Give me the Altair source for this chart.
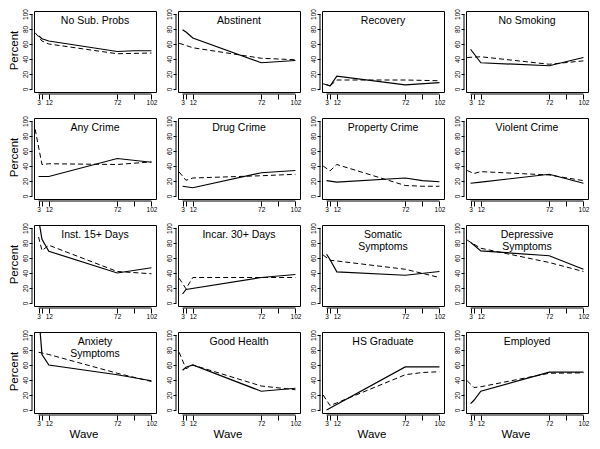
import altair as alt
import pandas as pd

N = None
WAVES = [0, 3, 6, 12, 72, 87, 102]
X_TICKS = [3, 6, 12, 72, 87, 102]
Y_TICKS = [0, 20, 40, 60, 80, 100]

TITLES = ["No Sub. Probs", "Abstinent", "Recovery", "No Smoking",
          "Any Crime", "Drug Crime", "Property Crime", "Violent Crime",
          "Inst. 15+ Days", "Incar. 30+ Days", "Somatic\nSymptoms", "Depressive\nSymptoms",
          "Anxiety\nSymptoms", "Good Health", "HS Graduate", "Employed"]
Y_TITLE = "Percent"
X_TITLE = "Wave"

# values at WAVES (None = no observation)
NOSUB_SOLID = [N, 71, 67, 64, 50, 51, 51]
NOSUB_DASHED = [75, N, 64, 60, 47, N, 48]
ABST_SOLID = [N, 79, 76, 68, 35, N, 38]
ABST_DASHED = [61, N, 58, 55, 41, N, 39]
RECOV_SOLID = [N, 6, 4, 17, 5.5, N, 8.5]
RECOV_DASHED = [7, N, 4, 12, 12, N, 11]
SMOKE_SOLID = [N, 53, N, 35, 31, N, 42]
SMOKE_DASHED = [42, N, N, 43, 33, N, 37.5]
ANYCR_SOLID = [N, 26, N, 26, 50, N, 45]
ANYCR_DASHED = [89, N, 42, 43, 42, N, 45.5]
DRUGCR_SOLID = [N, 13, N, 11, 31, N, 34]
DRUGCR_DASHED = [32, N, 21, 24, 27, N, 29]
PROPCR_SOLID = [N, 20.5, N, 18.5, 24, 20.5, 19]
PROPCR_DASHED = [40, N, 33.5, 42, 14, 13, 13]
VIOLCR_SOLID = [N, 17, N, 18.5, 29, N, 17]
VIOLCR_DASHED = [34, N, 30, 32.5, 28, N, 20.5]
INST_SOLID = [N, 112, 85, 69, 40, N, 47]
INST_DASHED = [N, 88, 70, 77, 42, N, 39]
INCAR_SOLID = [N, 12, 18, N, 34, N, 38]
INCAR_DASHED = [33, N, 19, 34, 34, N, 34]
SOMAT_SOLID = [N, 65, 58, 41.5, 37, N, 42]
SOMAT_DASHED = [64, N, 57, 56, 45, N, 34]
DEPR_SOLID = [N, 81, N, 69.5, 63, N, 45]
DEPR_DASHED = [84, 81, N, 73, 54, N, 42]
ANX_SOLID = [N, 130, 74, 60, 47, N, 39]
ANX_DASHED = [N, 77, N, 74, 49, N, 38]
HEALTH_SOLID = [N, 53, 57, 60, 25, N, 29]
HEALTH_DASHED = [77, N, 55, 60, 32, N, 27]
HSGRAD_SOLID = [N, 0, N, N, 57.5, N, 57.5]
HSGRAD_DASHED = [20, N, 6, 9.5, 47, 50, 51]
EMPL_SOLID = [N, 8.5, 13, 25, 50.5, N, 50.5]
EMPL_DASHED = [39, N, 30, 31, 49, N, 49.5]

SOLID = [NOSUB_SOLID, ABST_SOLID, RECOV_SOLID, SMOKE_SOLID,
         ANYCR_SOLID, DRUGCR_SOLID, PROPCR_SOLID, VIOLCR_SOLID,
         INST_SOLID, INCAR_SOLID, SOMAT_SOLID, DEPR_SOLID,
         ANX_SOLID, HEALTH_SOLID, HSGRAD_SOLID, EMPL_SOLID]
DASHED = [NOSUB_DASHED, ABST_DASHED, RECOV_DASHED, SMOKE_DASHED,
          ANYCR_DASHED, DRUGCR_DASHED, PROPCR_DASHED, VIOLCR_DASHED,
          INST_DASHED, INCAR_DASHED, SOMAT_DASHED, DEPR_DASHED,
          ANX_DASHED, HEALTH_DASHED, HSGRAD_DASHED, EMPL_DASHED]

W, H = 122, 81
FONT = "Liberation Sans"
XDOM = [-1, 106]
YDOM = [-4, 104]


def panel(i):
    row, col = divmod(i, 4)
    recs = []
    for kind, vals in (("solid", SOLID[i]), ("dashed", DASHED[i])):
        for w, v in zip(WAVES, vals):
            if v is not None:
                recs.append({"wave": w, "value": v, "kind": kind})
    df = pd.DataFrame(recs)

    xaxis = alt.Axis(values=X_TICKS,
                     labelExpr="datum.value == 6 || datum.value == 87 ? '' : datum.label",
                     domain=False, offset=2, tickSize=5, labelPadding=0,
                     grid=False, labelOverlap=False, labelFlush=False, title=None)
    yaxis = alt.Axis(values=Y_TICKS, domain=False, offset=2, tickSize=3,
                     labelPadding=1, grid=False, labelAngle=-90,
                     labelAlign="center", labelBaseline="bottom",
                     labelOverlap=False, labelFlush=False, title=None)
    xscale = alt.Scale(domain=XDOM, nice=False, zero=False)
    yscale = alt.Scale(domain=YDOM, nice=False, zero=False)

    x = alt.X("wave:Q", scale=xscale, axis=xaxis)
    y = alt.Y("value:Q", scale=yscale, axis=yaxis)

    base = alt.Chart(df).encode(x=x, y=y)
    solid = base.transform_filter("datum.kind == 'solid'").mark_line(
        color="black", strokeWidth=1.2, clip=True)
    dashed = base.transform_filter("datum.kind == 'dashed'").mark_line(
        color="black", strokeWidth=1, strokeDash=[5, 3], clip=True)

    one = pd.DataFrame({"t": [TITLES[i]]})
    xline = alt.Chart(one).mark_rule(color="black", strokeWidth=1).encode(
        x=alt.X(datum=3, type="quantitative", scale=xscale, axis=xaxis),
        x2=alt.X2(datum=102), y=alt.value(H + 2))
    yline = alt.Chart(one).mark_rule(color="black", strokeWidth=1).encode(
        y=alt.Y(datum=0, type="quantitative", scale=yscale, axis=yaxis),
        y2=alt.Y2(datum=100), x=alt.value(-2))
    title = alt.Chart(one).mark_text(font=FONT, fontSize=10.5, lineBreak="\n",
                                     lineHeight=11.5, baseline="alphabetic",
                                     align="center", color="black").encode(
        x=alt.value(W / 2), y=alt.value(13), text="t:N")
    layers = [solid, dashed, xline, yline, title]
    if col == 0:
        layers.append(alt.Chart(one).mark_text(
            font=FONT, fontSize=11.5, angle=270, baseline="middle", align="center",
            color="black").encode(x=alt.value(-19), y=alt.value(H / 2 - 1),
                                  text=alt.value(Y_TITLE)))
    if row == 3:
        layers.append(alt.Chart(one).mark_text(
            font=FONT, fontSize=11.5, baseline="top", align="center",
            color="black").encode(x=alt.value(W * 0.41), y=alt.value(H + 16),
                                  text=alt.value(X_TITLE)))

    return alt.layer(*layers).properties(width=W, height=H)


chart = alt.concat(*[panel(i) for i in range(16)], columns=4,
                   spacing={"row": 26, "column": 22}, bounds="flush").properties(
    padding=0, background="white"
).configure_view(stroke="black", strokeWidth=1).configure_axis(
    labelFont=FONT, labelFontSize=6.5, labelColor="black",
    tickColor="black", tickWidth=1
)

chart.save("out.html", embed_options={"renderer": "svg", "actions": False})
